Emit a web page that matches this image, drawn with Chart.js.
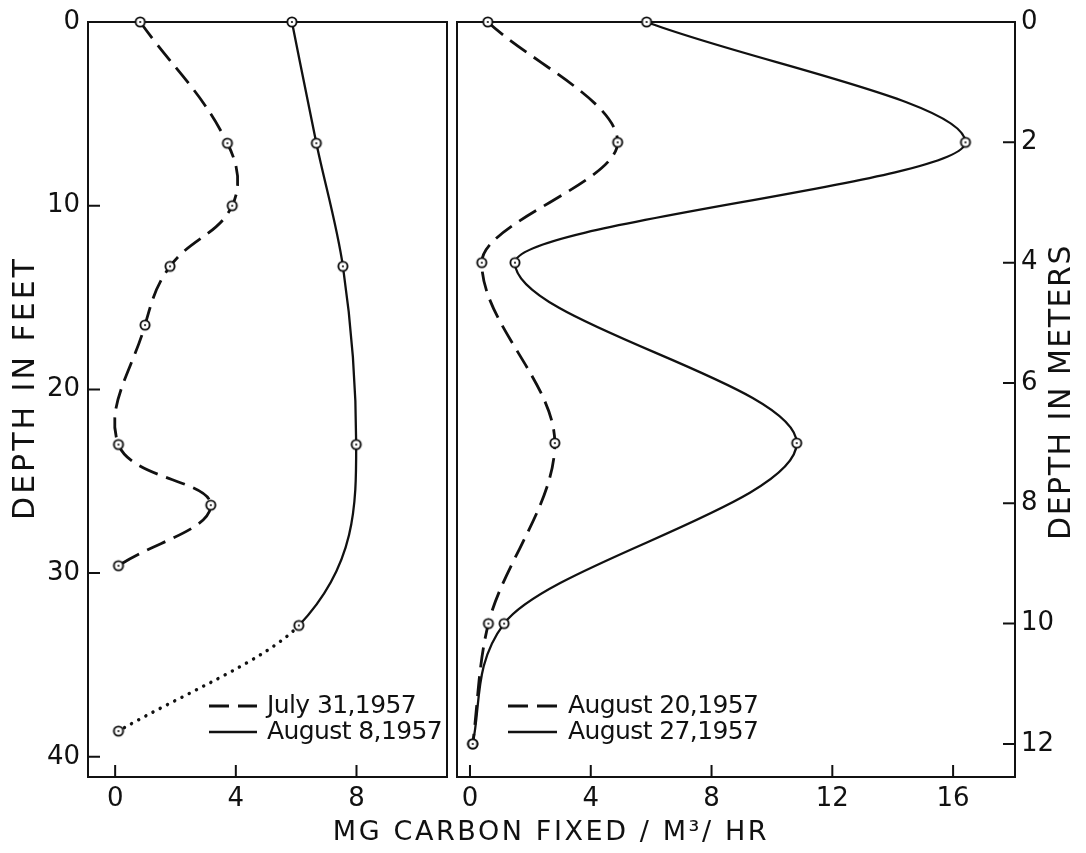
<!DOCTYPE html>
<html>
<head>
<meta charset="utf-8">
<script src="https://cdn.jsdelivr.net/npm/chart.js@4.4.0/dist/chart.umd.min.js"></script>
<style>
  html, body { margin: 0; padding: 0; background: #fff; }
  #wrap { position: relative; width: 1086px; height: 853px; }
  #wrap canvas { position: absolute; left: 0; top: 0; }
</style>
</head>
<body>
<div id="wrap">
  <canvas id="leftPanel" width="1086" height="853"></canvas>
  <canvas id="rightPanel" width="1086" height="853"></canvas>
</div>
<script>
// left panel, depth in feet
const depthFeetJul31 = [0, 6.6, 10, 13.3, 16.5, 23, 26.3, 29.6];
const carbonJul31 = [0.83, 3.72, 3.88, 1.82, 0.99, 0.11, 3.17, 0.11];
const depthFeetAug8 = [0, 6.6, 13.3, 23, 32.85, 38.6];
const carbonAug8 = [5.86, 6.67, 7.55, 7.99, 6.09, 0.11];

// right panel, depth in meters
const depthMetersAug20 = [0, 2, 4, 7, 10, 12];
const carbonAug20 = [0.59, 4.89, 0.39, 2.81, 0.61, 0.09];
const depthMetersAug27 = [0, 2, 4, 7, 10, 12];
const carbonAug27 = [5.85, 16.41, 1.49, 10.82, 1.13, 0.09];

const feetTicks = [0, 10, 20, 30, 40];
const meterTicks = [0, 2, 4, 6, 8, 10, 12];
const leftCarbonTicks = [0, 4, 8];
const rightCarbonTicks = [0, 4, 8, 12, 16];

const leftLabels = ["July 31,1957", "August 8,1957"];
const rightLabels = ["August 20,1957", "August 27,1957"];

const INK = "#111";
const FONT = "'DejaVu Sans', sans-serif";
const TICK_LEN = 12;

Chart.defaults.font.family = FONT;
Chart.defaults.color = INK;

function pts(xs, ys) {
  return xs.map((x, i) => ({ x: x, y: ys[i] }));
}

// small ring with a dot, like the hand drawn markers
function ringMarker() {
  const c = document.createElement("canvas");
  c.width = 14; c.height = 14;
  const g = c.getContext("2d");
  g.beginPath(); g.arc(7, 7, 4.6, 0, Math.PI * 2);
  g.fillStyle = "#fff"; g.fill();
  g.lineWidth = 1.9; g.strokeStyle = INK; g.stroke();
  g.beginPath(); g.arc(7, 7, 1.1, 0, Math.PI * 2);
  g.fillStyle = INK; g.fill();
  return c;
}
const marker = ringMarker();

function series(label, xs, ys, dashed, smooth) {
  const ds = {
    label: label,
    data: pts(xs, ys),
    borderColor: INK,
    borderWidth: dashed ? 2.8 : 2.3,
    borderDash: dashed ? [20, 9] : [],
    pointStyle: marker,
    pointRadius: 5,
    fill: false,
    clip: false
  };
  if (smooth === "bezier") ds.tension = 0.4;
  else ds.cubicInterpolationMode = "monotone";
  return ds;
}

function carbonAxis(min, max, ticks) {
  return {
    type: "linear", min: min, max: max,
    afterBuildTicks: s => { s.ticks = ticks.map(v => ({ value: v })); },
    afterFit: s => { s.height = 76; s.paddingLeft = 0; s.paddingRight = 0; },
    grid: { display: false, drawTicks: false },
    border: { display: false },
    ticks: { padding: 7, font: { size: 26 }, color: INK, maxRotation: 0 }
  };
}

function depthAxis(pos, max, ticks, width, pad) {
  return {
    type: "linear", position: pos, reverse: true, min: 0, max: max,
    afterBuildTicks: s => { s.ticks = ticks.map(v => ({ value: v })); },
    afterFit: s => { s.width = width; s.paddingTop = 0; s.paddingBottom = 0; },
    grid: { display: false, drawTicks: false },
    border: { display: false },
    ticks: { padding: pad, font: { size: 26 }, color: INK }
  };
}

// box around the plot plus short inward tick marks
const framePlugin = {
  id: "frame",
  beforeDatasetsDraw(chart) {
    const a = chart.chartArea, ctx = chart.ctx;
    ctx.save();
    ctx.strokeStyle = INK; ctx.lineWidth = 2;
    ctx.strokeRect(a.left, a.top, a.right - a.left, a.bottom - a.top);
    ctx.beginPath();
    Object.values(chart.scales).forEach(scale => {
      scale.ticks.forEach(t => {
        const p = scale.getPixelForValue(t.value);
        if (scale.axis === "x") {
          ctx.moveTo(p, a.bottom); ctx.lineTo(p, a.bottom - TICK_LEN);
        } else if (scale.position === "left") {
          ctx.moveTo(a.left, p); ctx.lineTo(a.left + TICK_LEN, p);
        } else {
          ctx.moveTo(a.right, p); ctx.lineTo(a.right - TICK_LEN, p);
        }
      });
    });
    ctx.stroke();
    ctx.restore();
  }
};

function legendPlugin(labels, lineX0, lineX1, textX, rowsY) {
  return {
    id: "keyBox",
    afterDraw(chart) {
      const ctx = chart.ctx;
      chart.data.datasets.forEach((ds, i) => {
        const y = rowsY[i];
        ctx.save();
        ctx.strokeStyle = ds.borderColor;
        ctx.lineWidth = ds.borderWidth;
        ctx.setLineDash(ds.borderDash);
        ctx.beginPath(); ctx.moveTo(lineX0, y); ctx.lineTo(lineX1, y); ctx.stroke();
        ctx.setLineDash([]);
        ctx.fillStyle = INK;
        ctx.font = "25px " + FONT;
        ctx.letterSpacing = "-0.6px";
        ctx.textAlign = "left"; ctx.textBaseline = "middle";
        ctx.fillText(labels[i], textX, y);
        ctx.restore();
      });
    }
  };
}

function titlesPlugin(items) {
  return {
    id: "titles",
    afterDraw(chart) {
      const ctx = chart.ctx;
      items.forEach(t => {
        ctx.save();
        ctx.translate(t.x, t.y);
        ctx.rotate(t.rot);
        ctx.font = t.size + "px " + FONT;
        ctx.letterSpacing = t.spacing + "px";
        ctx.fillStyle = INK;
        ctx.textAlign = "center"; ctx.textBaseline = "middle";
        ctx.fillText(t.text, 0, 0);
        ctx.restore();
      });
    }
  };
}

const common = {
  responsive: false,
  animation: false,
  devicePixelRatio: 1,
  indexAxis: "y",
  events: [],
  plugins: { legend: { display: false }, tooltip: { enabled: false } }
};

const lastAug8 = carbonAug8.length - 2;
const aug8 = series(leftLabels[1], carbonAug8, depthFeetAug8, false);
aug8.segment = {
  borderDash: c => c.p0DataIndex === lastAug8 ? [0.1, 8] : undefined,
  borderCapStyle: c => c.p0DataIndex === lastAug8 ? "round" : undefined,
  borderWidth: c => c.p0DataIndex === lastAug8 ? 3.4 : undefined
};

new Chart(document.getElementById("leftPanel"), {
  type: "line",
  data: {
    datasets: [series(leftLabels[0], carbonJul31, depthFeetJul31, true, "bezier"), aug8]
  },
  options: Object.assign({}, common, {
    layout: { padding: { left: 0, top: 22, right: 639, bottom: 0 } },
    scales: {
      x: carbonAxis(-0.9, 11.0, leftCarbonTicks),
      y: depthAxis("left", 41.1, feetTicks, 88, 8)
    }
  }),
  plugins: [
    framePlugin,
    legendPlugin(leftLabels, 209, 257, 267, [706, 732]),
    titlesPlugin([{ text: "DEPTH IN FEET", x: 26, y: 388, rot: -Math.PI / 2, size: 30, spacing: 3 }])
  ]
});

new Chart(document.getElementById("rightPanel"), {
  type: "line",
  data: {
    datasets: [
      series(rightLabels[0], carbonAug20, depthMetersAug20, true),
      series(rightLabels[1], carbonAug27, depthMetersAug27, false)
    ]
  },
  options: Object.assign({}, common, {
    layout: { padding: { left: 457, top: 22, right: 0, bottom: 0 } },
    scales: {
      x: carbonAxis(-0.43, 18.05, rightCarbonTicks),
      y: depthAxis("right", 12.55, meterTicks, 71, 6)
    }
  }),
  plugins: [
    framePlugin,
    legendPlugin(rightLabels, 508, 557, 568, [706, 732]),
    titlesPlugin([
      { text: "DEPTH IN METERS", x: 1062, y: 392, rot: -Math.PI / 2, size: 30, spacing: 1.5 },
      { text: "MG CARBON FIXED / M\u00B3/ HR", x: 551, y: 833, rot: 0, size: 27, spacing: 2.6 }
    ])
  ]
});
</script>
</body>
</html>
